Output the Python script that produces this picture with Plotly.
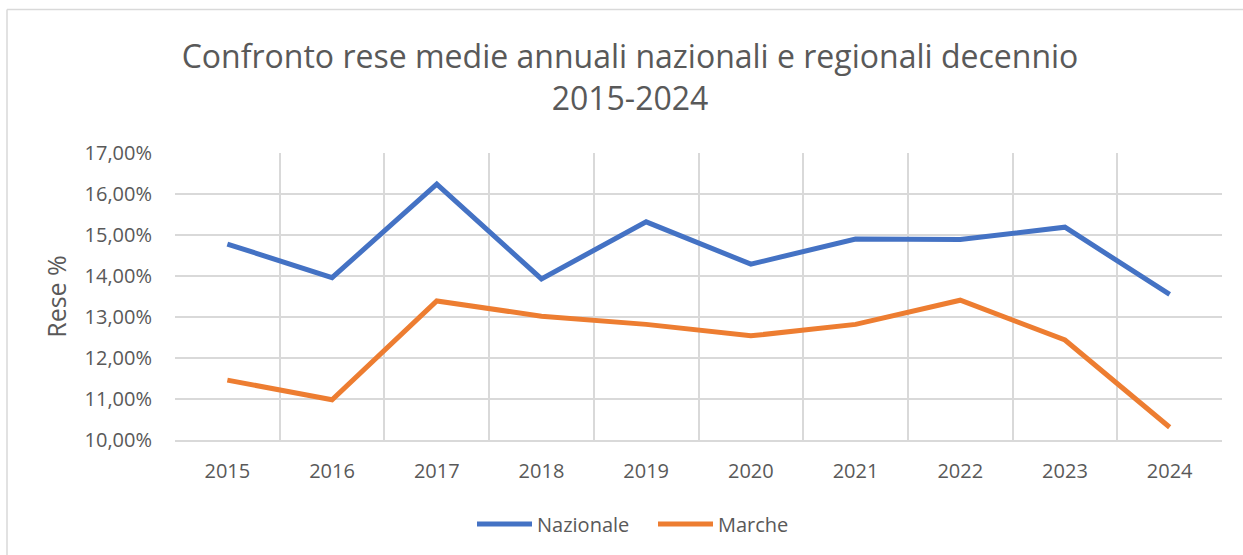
import plotly.graph_objects as go

years = ["2015", "2016", "2017", "2018", "2019", "2020", "2021", "2022", "2023", "2024"]
nazionale = [14.78, 13.96, 16.24, 13.93, 15.32, 14.29, 14.90, 14.89, 15.19, 13.55]
marche = [11.46, 10.98, 13.39, 13.02, 12.82, 12.54, 12.82, 13.41, 12.44, 10.31]
y_ticks = [10, 11, 12, 13, 14, 15, 16, 17]
y_labels = ["10,00%", "11,00%", "12,00%", "13,00%", "14,00%", "15,00%", "16,00%", "17,00%"]

W, H = 1243, 555
ml, mr, mt, mb = 175, 21, 153, 115
pw, ph = W - ml - mr, H - mt - mb

def px(x):
    return (x - ml) / pw

def py(y):
    return (H - mb - y) / ph

FONT = "Open Sans"
TXT = "#595959"
GRID = "#D9D9D9"

fig = go.Figure()
fig.add_trace(go.Scatter(x=years, y=nazionale, mode="lines", name="Nazionale",
                         line=dict(color="#4472C4", width=5)))
fig.add_trace(go.Scatter(x=years, y=marche, mode="lines", name="Marche",
                         line=dict(color="#ED7D31", width=5)))

fig.update_layout(
    width=W, height=H,
    margin=dict(l=ml, r=mr, t=mt, b=mb, autoexpand=False),
    paper_bgcolor="white", plot_bgcolor="white",
    font=dict(family=FONT, color=TXT),
    title=dict(text="Confronto rese medie annuali nazionali e regionali decennio<br>2015-2024",
               x=630 / W, xanchor="center", xref="container", y=1 - 68 / H, yanchor="middle",
               yref="container",
               font=dict(size=32, color=TXT, family=FONT)),
    xaxis=dict(type="category", tickson="boundaries", showgrid=True, gridcolor=GRID,
               gridwidth=1.5, showline=True, linecolor=GRID, linewidth=1.5,
               ticks="", tickfont=dict(size=20, color=TXT), ticklabelstandoff=12,
               tickangle=0, range=[-0.5, 9.5], fixedrange=True, mirror=False),
    yaxis=dict(range=[10, 17], tickvals=y_ticks, ticktext=y_labels, showgrid=True,
               gridcolor=GRID, gridwidth=1.5, zeroline=False, showline=False,
               tickfont=dict(size=20, color=TXT), ticklabelstandoff=22,
               title=dict(text="Rese %", font=dict(size=25, color=TXT), standoff=10)),
    legend=dict(orientation="h", x=px(472), xanchor="left",
                y=py(524), yanchor="middle",
                font=dict(size=20, color=TXT), itemwidth=55, tracegroupgap=0,
                entrywidth=111, entrywidthmode="pixels"),
    showlegend=True,
)

fig.add_shape(type="line", xref="paper", yref="paper", x0=px(7), x1=px(1243), y0=py(9.5), y1=py(9.5),
              line=dict(color=GRID, width=1.5))
fig.add_shape(type="line", xref="paper", yref="paper", x0=px(7), x1=px(7), y0=py(9.5), y1=py(560),
              line=dict(color=GRID, width=1.5))

fig.write_html("out.html")
